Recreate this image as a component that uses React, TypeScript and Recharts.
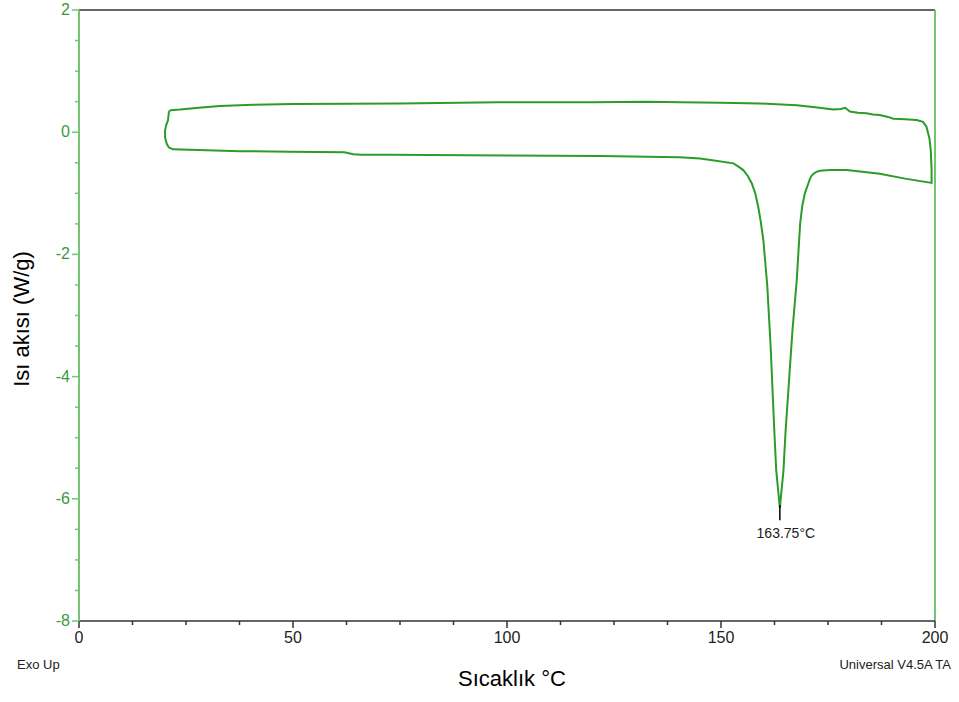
import React from 'react';
import { LineChart, Line, XAxis, YAxis, ReferenceLine } from 'recharts';

// DSC loop: heating branch along the top, then back along the bottom through the melt peak
const temperature = [
  21.3, 23.6, 28, 32.9, 40.7, 50, 75, 98, 120, 133, 140.4, 150, 159.1, 167.7, 172, 176.2,
  178, 179, 180.1, 182, 184, 185.5, 187.1, 189, 190.3, 193, 195.7, 197.2, 198.0, 198.7,
  199.0, 199.2, 199.2,
  193, 187.1, 179.4, 175.5, 173.1, 172.3, 171.6, 171.2, 170.8, 170.4, 169.6, 169.0, 168.5,
  168.1, 167.7, 166.7, 165.9, 165.1, 164.6, 163.75, 162.9, 162.4, 161.6, 160.8, 159.9,
  159.3, 158.7, 158.0, 157.2, 156.3, 155.2, 154.0, 152.9, 148, 145.1, 140.4, 121.7, 100,
  72.7, 66, 64.1, 62, 49.3, 37.6, 22.0, 21.0, 20.5, 20.1, 20.1, 20.4, 20.8, 21.0, 21.3,
];
const heatFlow = [
  0.36, 0.37, 0.4, 0.43, 0.45, 0.46, 0.47, 0.49, 0.49, 0.5, 0.49, 0.48, 0.47, 0.44, 0.41, 0.37,
  0.38, 0.4, 0.34, 0.32, 0.31, 0.29, 0.28, 0.25, 0.22, 0.21, 0.2, 0.17, 0.09, -0.1,
  -0.29, -0.6, -0.83,
  -0.76, -0.68, -0.62, -0.62, -0.63, -0.65, -0.68, -0.71, -0.76, -0.84, -1.0, -1.2, -1.49,
  -1.95, -2.42, -3.24, -4.06, -4.88, -5.53, -6.15, -5.53, -4.8, -3.51, -2.5, -1.77,
  -1.47, -1.22, -1.0, -0.84, -0.72, -0.62, -0.56, -0.51, -0.46, -0.43, -0.41, -0.39, -0.38,
  -0.37, -0.37, -0.36, -0.33, -0.32, -0.31, -0.28, -0.25, -0.19, -0.08, 0.03, 0.12, 0.2, 0.33, 0.36,
];

const peakTemp = 163.75;
const peakLabel = '163.75°C';

const xMajor = [0, 50, 100, 150, 200];
const xMinor = [12.5, 25, 37.5, 62.5, 75, 87.5, 112.5, 125, 137.5, 162.5, 175, 187.5];
const yMajor = [-8, -6, -4, -2, 0, 2];
const yMinor = [-7.5, -7, -6.5, -5.5, -5, -4.5, -3.5, -3, -2.5, -1.5, -1, -0.5, 0.5, 1, 1.5];

const data = temperature.map((t, i) => ({ t, q: heatFlow[i] }));
const xTicks = [...xMajor, ...xMinor].sort((a, b) => a - b);
const yTicks = [...yMajor, ...yMinor].sort((a, b) => a - b);

const LINE = '#2a9c2a';
const AXIS_GREEN = '#74c474';
const FONT = 'Arial, "Liberation Sans", sans-serif';

const YTick = (props: any) => {
  const { x, y, payload } = props;
  const major = yMajor.includes(payload.value);
  return (
    <g>
      <line x1={x - (major ? 7 : 4)} x2={x} y1={y} y2={y} stroke={AXIS_GREEN} strokeWidth={1.5} />
      {major && (
        <text x={x - 9} y={y} dy={5} textAnchor="end" fontSize={16} fill="#3a9a3a" fontFamily={FONT}>
          {payload.value}
        </text>
      )}
    </g>
  );
};

const XTick = (props: any) => {
  const { x, y, payload } = props;
  const major = xMajor.includes(payload.value);
  return (
    <g>
      <line x1={x} x2={x} y1={y} y2={y + (major ? 7 : 4)} stroke="#333" strokeWidth={1.5} />
      {major && (
        <text x={x} y={y + 22} textAnchor="middle" fontSize={16} fill="#222" fontFamily={FONT}>
          {payload.value}
        </text>
      )}
    </g>
  );
};

export default function App() {
  return (
    <div style={{ position: 'absolute', left: 0, top: 0, width: 959, height: 702, background: '#fff', fontFamily: FONT }}>
      <LineChart width={959} height={702} data={data} margin={{ top: 10, right: 24, bottom: 41, left: 19 }}>
        <XAxis
          dataKey="t"
          type="number"
          domain={[0, 200]}
          ticks={xTicks}
          interval={0}
          tickSize={0}
          tickMargin={0}
          tick={XTick}
          tickLine={false}
          axisLine={{ stroke: '#333', strokeWidth: 1.5 }}
          height={40}
        />
        <YAxis
          type="number"
          domain={[-8, 2]}
          ticks={yTicks}
          interval={0}
          tickSize={0}
          tickMargin={0}
          tick={YTick}
          tickLine={false}
          axisLine={{ stroke: AXIS_GREEN, strokeWidth: 2 }}
          width={60}
        />
        <ReferenceLine y={2} stroke="#333" strokeWidth={1.5} />
        <ReferenceLine x={200} stroke={AXIS_GREEN} strokeWidth={2} />
        <Line
          dataKey="q"
          type="linear"
          stroke={LINE}
          strokeWidth={2}
          dot={false}
          isAnimationActive={false}
        />
        <ReferenceLine
          segment={[{ x: peakTemp, y: -6.1 }, { x: peakTemp, y: -6.35 }]}
          stroke="#000"
          strokeWidth={1.5}
          label={{ value: peakLabel, position: 'bottom', offset: 8, fontSize: 14, fill: '#222', dx: 6, fontFamily: FONT }}
        />
      </LineChart>
      <div
        style={{
          position: 'absolute',
          left: 22,
          top: 319,
          transform: 'translate(-50%, -50%) rotate(-90deg)',
          whiteSpace: 'nowrap',
          fontSize: 22,
          color: '#000',
        }}
      >
        Isı akısı (W/g)
      </div>
      <div
        style={{
          position: 'absolute',
          left: 512,
          top: 679,
          transform: 'translate(-50%, -50%)',
          whiteSpace: 'nowrap',
          fontSize: 22,
          color: '#000',
        }}
      >
        Sıcaklık °C
      </div>
      <div style={{ position: 'absolute', left: 17, top: 657, fontSize: 13, color: '#222' }}>Exo Up</div>
      <div style={{ position: 'absolute', right: 8, top: 657, fontSize: 13, color: '#222' }}>Universal V4.5A TA</div>
    </div>
  );
}
